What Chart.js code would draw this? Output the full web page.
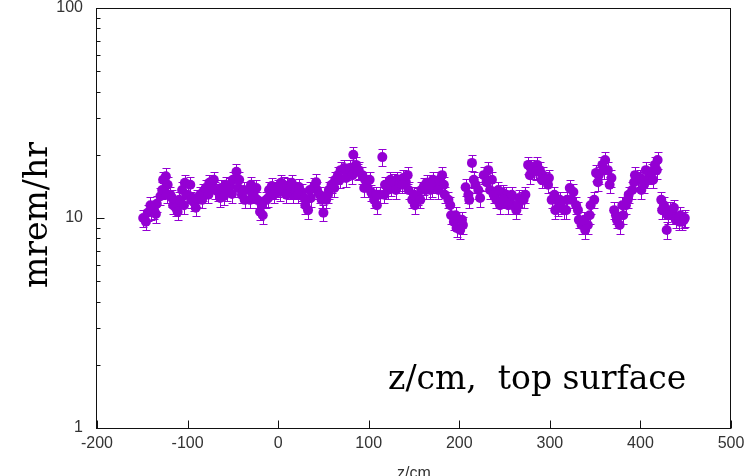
<!DOCTYPE html>
<html>
<head>
<meta charset="utf-8">
<script src="https://cdn.jsdelivr.net/npm/chart.js@4/dist/chart.umd.min.js"></script>
<style>
html,body{margin:0;padding:0;background:#fff;}
canvas{display:block;}
</style>
</head>
<body>
<canvas id="c" width="750" height="476"></canvas>
<script>
// ---- data ----
const zCm = [
-149,-146,-144,-140,-137,-134,-130,-127,-124,-122,-119,-116,-113,-109,-106,-103,-100,-96,-93,-90,
-86,-83,-80,-76,-73,-70,-66,-63,-60,-56,-53,-50,-46,-43,-40,-37,-33,-30,-27,-23,
-20,-17,-13,-10,-7,-3,0,3,6,10,13,16,20,23,26,30,33,36,40,43,
46,50,53,56,59,63,66,69,73,76,79,83,86,89,93,96,99,103,106,109,
112,115,118,121,125,128,131,135,138,141,144,148,151,154,158,161,164,168,171,174,
178,181,184,188,191,194,197,201,204,207,211,214,218,223,227,232,236,241,245,248,
252,256,259,263,266,269,273,276,279,282,286,289,292,296,299,302,306,309,312,316,
319,322,326,329,332,335,339,342,345,349,351,354,358,361,364,368,371,374,377,381,
384,387,391,394,397,401,404,407,411,414,416,419,423,426,429,433,436,439,443,446,449,
-141,-135,-128,-123,-117,-111,-104,-97,-91,-84,-77,-71,-64,-58,-51,-44,-38,-31,-24,-18,
-11,-5,2,9,15,22,29,35,42,48,55,62,68,75,82,88,95,101,108,117,
124,130,137,143,150,157,163,170,177,183,190,196,203,210,216,221,230,234,238,243,
249,254,258,265,271,278,285,291,298,305,311,318,324,331,338,344,353,360,366,373,
380,386,393,400,406,413,418,424,430,437,444,448
];
const doseRate = [
10.0,9.6,10.6,10.8,10.9,11.7,12.7,15.2,15.8,14.4,12.9,11.5,11.2,12.2,13.6,14.7,12.9,12.2,11.9,12.45,
12.9,13.3,13.9,14.7,14.4,13.6,13.3,13.9,12.7,13.3,14.2,15.2,16.6,15.2,12.9,12.2,13.6,14.4,12.9,12.2,
10.7,10.3,12.2,13.6,14.2,13.6,13.9,14.7,14.4,14.2,13.6,12.9,13.6,14.05,13.3,11.5,10.9,12.45,14.2,13.6,
12.9,10.6,12.2,13.6,14.4,15.2,16.0,16.9,17.3,16.6,17.3,20.0,17.9,16.9,16.0,15.2,13.9,13.2,12.2,11.5,
12.9,19.5,14.4,13.6,14.05,14.8,15.2,14.7,15.5,14.8,13.6,12.2,11.5,12.7,13.6,14.2,14.7,13.6,15.2,14.4,
15.2,16.0,12.9,12.2,10.3,9.6,8.96,8.77,9.26,14.0,12.2,18.3,14.4,12.45,16.0,16.9,15.2,12.2,11.5,13.2,
12.9,12.2,11.5,10.9,12.45,12.2,12.9,17.9,17.3,16.9,17.9,16.9,16.0,15.2,15.5,12.2,10.9,11.2,11.5,10.9,
12.2,13.9,13.3,11.5,9.8,9.26,8.77,9.26,11.5,12.2,16.4,16.0,17.9,18.9,16.9,15.5,10.9,9.8,9.26,10.3,
11.5,12.9,13.6,16.0,15.2,13.6,14.4,15.2,16.0,15.2,17.9,18.9,12.2,11.5,8.77,10.9,10.3,9.8,9.6,9.6,10.0,
11.5,10.45,13.6,12.9,12.45,10.7,11.5,14.4,11.2,12.2,12.9,15.2,12.45,14.4,13.0,13.9,13.6,12.2,13.9,11.5,
12.45,12.9,13.3,12.9,14.7,12.9,12.45,13.6,14.8,12.2,12.9,13.9,15.2,15.5,16.0,16.6,13.9,15.2,12.9,12.9,
15.2,13.6,14.4,16.0,12.9,12.2,13.6,13.9,13.6,14.4,11.5,10.3,9.8,12.9,15.2,13.6,14.8,13.6,12.9,13.6,
12.2,11.5,12.9,11.5,12.2,16.0,16.6,15.2,14.4,12.9,12.2,10.9,12.2,10.9,9.8,10.3,14.8,16.9,14.4,10.3,
11.5,12.2,14.8,15.5,16.9,16.6,16.9,10.9,10.3,11.2,10.3,9.8
];
const xTickValues = [-200,-100,0,100,200,300,400,500];
const yTickValues = [1,10,100];
const yMinorValues = [2,3,4,5,6,7,8,9,20,30,40,50,60,70,80,90];
const relErr = 0.09;
const yTitle = 'mrem/hr';
const xTitle = 'z/cm';
const note = 'z/cm,  top surface';

const markColor = '#9400d3';
const labelFont = {family:'"Liberation Sans", Arial, sans-serif', size:16};

const points = zCm.map((z,i)=>({x:z, y:doseRate[i]}));

const frame = {
  id:'frame',
  beforeDatasetsDraw(chart){
    const ctx = chart.ctx, xs = chart.scales.x, ys = chart.scales.y;
    ctx.save();
    ctx.strokeStyle = markColor;
    ctx.lineWidth = 1;
    ctx.beginPath();
    points.forEach(p=>{
      const px = Math.round(xs.getPixelForValue(p.x))+0.5;
      const yl = Math.round(ys.getPixelForValue(p.y*(1-relErr)))+0.5;
      const yh = Math.round(ys.getPixelForValue(p.y*(1+relErr)))+0.5;
      ctx.moveTo(px,yl); ctx.lineTo(px,yh);
      ctx.moveTo(px-4,yl); ctx.lineTo(px+4,yl);
      ctx.moveTo(px-4,yh); ctx.lineTo(px+4,yh);
    });
    ctx.stroke();
    ctx.restore();
  },
  afterDraw(chart){
    const ctx = chart.ctx, a = chart.chartArea, xs = chart.scales.x, ys = chart.scales.y;
    ctx.save();
    ctx.strokeStyle = '#111';
    ctx.lineWidth = 1;
    const L = Math.round(a.left)-0.5, R = Math.round(a.right)-0.5, T = Math.round(a.top)+0.5, B = Math.round(a.bottom)+0.5;
    ctx.strokeRect(L, T, R-L, B-T);
    ctx.beginPath();
    xTickValues.forEach(v=>{
      const px = Math.round(xs.getPixelForValue(v))+0.5;
      ctx.moveTo(px,B); ctx.lineTo(px,B-8);
    });
    yTickValues.forEach(v=>{
      const py = Math.round(ys.getPixelForValue(v))+0.5;
      ctx.moveTo(L,py); ctx.lineTo(L+8,py);
    });
    yMinorValues.forEach(v=>{
      const py = Math.round(ys.getPixelForValue(v))+0.5;
      ctx.moveTo(L,py); ctx.lineTo(L+4,py);
    });
    ctx.stroke();
    // y title
    ctx.fillStyle = '#000';
    ctx.font = '33px "DejaVu Serif", serif';
    ctx.textAlign = 'center';
    ctx.textBaseline = 'middle';
    ctx.translate(38, 215);
    ctx.rotate(-Math.PI/2);
    ctx.fillText(yTitle, 0, 0);
    ctx.setTransform(1,0,0,1,0,0);
    // note
    ctx.textAlign = 'left';
    ctx.textBaseline = 'alphabetic';
    ctx.fillText(note, 388, 389);
    // x title (cut by canvas bottom)
    ctx.fillStyle = '#333';
    ctx.font = '16px "Liberation Sans", Arial, sans-serif';
    ctx.textAlign = 'center';
    ctx.fillText(xTitle, (a.left+a.right)/2, 478);
    ctx.restore();
  }
};

new Chart(document.getElementById('c'), {
  type:'scatter',
  data:{datasets:[{data:points, backgroundColor:markColor, borderColor:markColor, borderWidth:0, pointRadius:5, pointHoverRadius:5}]},
  options:{
    responsive:false, animation:false,
    layout:{padding:{top:8, right:19, left:0, bottom:0}},
    plugins:{legend:{display:false}, tooltip:{enabled:false}},
    scales:{
      x:{type:'linear', min:-200, max:500,
         afterBuildTicks:s=>{s.ticks = xTickValues.map(v=>({value:v}));},
         afterFit:s=>{s.height = 48; s.paddingLeft = 0; s.paddingRight = 0;},
         grid:{display:false, drawTicks:false}, border:{display:false},
         ticks:{color:'#333', font:labelFont, padding:6, maxRotation:0, autoSkip:false}},
      y:{type:'logarithmic', min:1, max:100,
         afterBuildTicks:s=>{s.ticks = yTickValues.map(v=>({value:v}));},
         afterFit:s=>{s.width = 97; s.paddingTop = 0; s.paddingBottom = 0;},
         grid:{display:false, drawTicks:false}, border:{display:false},
         ticks:{color:'#333', font:labelFont, padding:14, autoSkip:false, callback:v=>String(v)}}
    }
  },
  plugins:[frame]
});
</script>
</body>
</html>
